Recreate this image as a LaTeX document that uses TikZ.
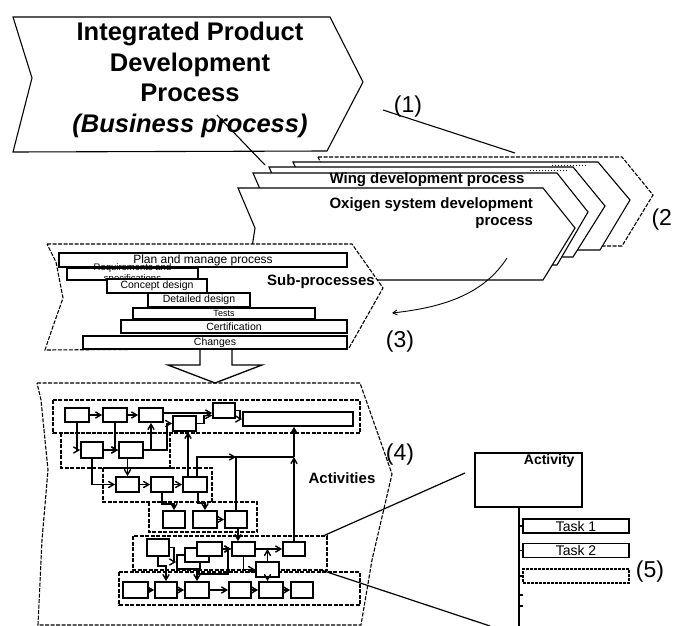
\documentclass[tikz,border=0pt]{standalone}
\usepackage{fontspec}
\setmainfont{Liberation Sans}
\usetikzlibrary{arrows}

\begin{document}
\begin{tikzpicture}[x=1pt,y=-1pt,>=angle 60,
  chev/.style={draw,fill=white,line width=1.1pt},
  grp/.style={draw,line width=1.1pt,dash pattern=on 4pt off 1.5pt},
  bar/.style={draw,fill=white,line width=1.4pt,inner sep=0pt,font=\fontsize{10.5}{12}\selectfont},
  abox/.style={draw,fill=white,line width=1.7pt,inner sep=0pt},
  task/.style={draw,fill=white,line width=1.4pt,inner sep=0pt,minimum width=106pt,minimum height=14pt,font=\fontsize{14}{14}\selectfont},
  conn/.style={->,line width=1.4pt},
  tag/.style={font=\fontsize{23}{23}\selectfont}]

  \useasboundingbox (0,0) rectangle (680,626);

  \draw[chev] (13,17) -- (330,17) -- (363,82) -- (327,151) -- (13,152) -- (32,78) -- cycle;
  \node[align=center,font=\bfseries\fontsize{25.5}{30.5}\selectfont] (ipdp) at (190,80)
    {Integrated Product\\Development\\Process\\\textit{(Business process)}};

  \draw[chev,dash pattern=on 4pt off 1.5pt] (318,157) -- (622,157) -- (653,195) -- (622,246) -- (327,246) -- (335,195) -- cycle;
  \draw[chev] (293,162) -- (598,162) -- (630,200) -- (600,250) -- (302,250) -- (310,200) -- cycle;
  \draw[chev] (269,167) -- (573,167) -- (605,206) -- (573,257) -- (278,257) -- (286,206) -- cycle;
  \draw[chev] (253,173) -- (557,173) -- (588,212) -- (557,265) -- (262,265) -- (270,212) -- cycle;
  \draw[chev] (238,188) -- (543,188) -- (575,228) -- (543,280) -- (247,280) -- (255,228) -- cycle;
  \draw[dotted,line width=1pt] (530,170) -- (567,170) (552,165) -- (588,165);
  \node[font=\bfseries\fontsize{15}{17}\selectfont] (wing) at (427,180) {Wing development process};
  \node[align=right,anchor=east,font=\bfseries\fontsize{15}{17}\selectfont] (oxi) at (536.5,213)
    {Oxigen system development\\process};

  \coordinate (l1a) at (217,115);
  \coordinate (l1b) at (265,165);
  \coordinate (l2a) at (383,110);
  \coordinate (l2b) at (515,153);
  \draw[line width=1.1pt] (l1a) -- (l1b) (l2a) -- (l2b);
  \node[tag] (t1) at (408,107) {(1)};
  \node[tag,anchor=west] (t2) at (648,220) {(2};

  \coordinate (c1) at (507,258);
  \coordinate (c2) at (392,313);
  \draw[->,line width=0.9pt] (c1) .. controls (485,292) and (448,307) .. (c2);
  \node[tag] (t3) at (400,342) {(3)};

  \draw[grp,fill=white] (47,244) -- (352,244) -- (383,288) -- (349,348) -- (45,350) -- (50,335) -- (63,298) -- (56,262) -- cycle;
  \node[bar,minimum width=288pt,minimum height=14pt,font=\fontsize{12}{14}\selectfont] (plan) at (203,260) {Plan and manage process};
  \node[bar,minimum width=131pt,minimum height=12pt,
    label={[align=center,font=\fontsize{9.5}{11}\selectfont]center:Requirements and\\specifications}] (req) at (132.5,274) {};
  \node[bar,minimum width=100pt,minimum height=14pt] (concept) at (157,286) {Concept design};
  \node[bar,minimum width=102pt,minimum height=14pt] (detail) at (199,300) {Detailed design};
  \node[bar,minimum width=182pt,minimum height=11pt,font=\fontsize{9}{10}\selectfont] (tests) at (224,313.5) {Tests};
  \node[bar,minimum width=226pt,minimum height=13pt] (cert) at (234,326.5) {Certification};
  \node[bar,minimum width=264pt,minimum height=13pt] (changes) at (215,342.5) {Changes};
  \node[font=\bfseries\fontsize{15}{17}\selectfont] (subtxt) at (321,282) {Sub-processes};

  \draw[line width=1.3pt] (200,349) -- (200,365) -- (168,365) -- (215,383) -- (262,365) -- (232,365) -- (232,349);

  \draw[grp] (37,383) -- (360,383) -- (392,474) -- (372,560) -- (361,625) -- (38,625) -- (42,540) -- (48,470) -- (41,400) -- cycle;
  \node[font=\bfseries\fontsize{15}{17}\selectfont] (acttxt) at (342,478) {Activities};
  \node[tag] (t4) at (400,455) {(4)};

  \draw[grp] (53,400) rectangle (360,433);
  \draw[grp] (61,433) rectangle (170,468);
  \draw[grp] (103,468) rectangle (212,502);
  \draw[grp] (149,502) rectangle (257,532);
  \draw[grp] (133,536) rectangle (327,570);
  \draw[grp] (119,572) rectangle (360,605);

  \node[abox,minimum width=24pt,minimum height=14pt] (a1) at (77,415) {};
  \node[abox,minimum width=24pt,minimum height=14pt] (a2) at (115,415) {};
  \node[abox,minimum width=24pt,minimum height=14pt] (a3) at (151,415) {};
  \node[abox,minimum width=23pt,minimum height=15pt] (a4) at (184.5,423.5) {};
  \node[abox,minimum width=22pt,minimum height=15pt] (a5) at (224,410.5) {};
  \node[abox,minimum width=110pt,minimum height=14pt] (a6) at (298,419) {};
  \node[abox,minimum width=22pt,minimum height=16pt] (a7) at (92,450) {};
  \node[abox,minimum width=24pt,minimum height=16pt] (a8) at (131,450) {};
  \node[abox,minimum width=23pt,minimum height=15pt] (a9) at (127.5,484.5) {};
  \node[abox,minimum width=22pt,minimum height=15pt] (a10) at (162,484.5) {};
  \node[abox,minimum width=24pt,minimum height=15pt] (a11) at (195,484.5) {};
  \node[abox,minimum width=22pt,minimum height=17pt] (a12) at (174,519.5) {};
  \node[abox,minimum width=24pt,minimum height=17pt] (a13) at (205,519.5) {};
  \node[abox,minimum width=22pt,minimum height=17pt] (a14) at (236,519.5) {};
  \node[abox,minimum width=22pt,minimum height=17pt] (a15) at (158,547.5) {};
  \node[abox,minimum width=23pt,minimum height=14pt] (a16) at (188.5,562) {};
  \node[abox,minimum width=24pt,minimum height=14pt] (a17) at (197,555) {};
  \node[abox,minimum width=25pt,minimum height=14pt] (a18) at (209.5,549) {};
  \node[abox,minimum width=23pt,minimum height=14pt] (a19) at (243.5,549) {};
  \node[abox,minimum width=22pt,minimum height=14pt] (a20) at (294,549) {};
  \node[abox,minimum width=23pt,minimum height=15pt] (a21) at (267.5,569.5) {};
  \node[abox,minimum width=25pt,minimum height=16pt] (a22) at (135.5,590) {};
  \node[abox,minimum width=22pt,minimum height=16pt] (a23) at (166,590) {};
  \node[abox,minimum width=24pt,minimum height=16pt] (a24) at (197,590) {};
  \node[abox,minimum width=22pt,minimum height=16pt] (a25) at (240,590) {};
  \node[abox,minimum width=24pt,minimum height=16pt] (a26) at (271,590) {};
  \node[abox,minimum width=22pt,minimum height=16pt] (a27) at (302,590) {};

  \coordinate (j1) at (236,457);
  \coordinate (j2) at (294,457);

  \draw[conn] (a1) -- (a2);
  \draw[conn] (a2) -- (a3);
  \draw[conn] ([yshift=2pt]a3.east) -- ([yshift=2pt]a3.east -| a5.west);
  \draw[conn] (a4.east) -- ++(7,0) |- ([yshift=-5pt]a5.west);
  \draw[conn] (a5.east) -- ++(4,0) |- (a6.west);
  \draw[conn] (a1.south) |- (a7.west);
  \draw[conn] (a2.south) |- (a8.west);
  \draw[conn] (a7) -- (a8);
  \draw[conn] (a8.east) -| (a3.south);
  \draw[conn] (a8.east) -- (167,450) |- (a4.west);
  \draw[conn] (a8.south -| a9.north) -- (a9.north);
  \draw[conn] (a7.south) |- (a9.west);
  \draw[conn] (a9) -- (a10);
  \draw[conn] (a10) -- (a11);
  \draw[conn] ([xshift=-7pt]a11.north) -- ([xshift=-7pt]a11.north |- a4.south);
  \draw[conn] ([xshift=2pt]a11.north) |- (j1);
  \draw[line width=1.4pt] (a14.north) -- (j1) -- (j2);
  \draw[conn] (a20.north) -- (j2);
  \draw[conn] (j2) -- (j2 |- a6.south);
  \draw[conn] (a10.south) -- ++(0,11) -| (a12.north);
  \draw[conn] ([xshift=3pt]a11.south) -- ++(0,10) -| (a13.north);
  \draw[conn] (a13) -- (a14);
  \draw[conn] ([xshift=2pt]a14.south) -- ([xshift=2pt]a14.south |- a19.north);
  \draw[conn] (a15.south) -- ++(0,9) -| (a23.north);
  \draw[conn] (a15.east) -- ++(4,0) |- (a16.west);
  \draw[conn] (a16.south -| a24.north) -- (a24.north);
  \draw[conn] (197,574) -- (228,574) |- (a19.west);
  \draw[conn] (a18) -- (a19);
  \draw[conn] (a19) -- (a20);
  \draw[conn] (a21.north) -- (a21.north |- a19.east);
  \draw[conn] (a19.south) |- (a21.west);
  \draw[conn] (a21.south) -- (a21.south |- a26.north);
  \draw[conn] (a22) -- (a23);
  \draw[conn] (a23) -- (a24);
  \draw[conn] (a24) -- (a25);
  \draw[conn] (a25) -- (a26);
  \draw[conn] (a26) -- (a27);

  \node[draw,line width=1.4pt,minimum width=107pt,minimum height=54pt] (act) at (528.5,480) {};
  \node[anchor=north east,inner sep=2pt,font=\bfseries\fontsize{14}{14}\selectfont] (actname) at ([xshift=-6pt]act.north east) {Activity};
  \coordinate (d1a) at (323,536);
  \coordinate (d1b) at (465,473);
  \coordinate (d2a) at (321,570);
  \coordinate (d2b) at (490,626);
  \draw[line width=1.2pt] (d1a) -- (d1b) (d2a) -- (d2b);

  \coordinate (vt) at (519,507);
  \coordinate (vb) at (519,626);
  \draw[line width=1.4pt] (vt) -- (vb);
  \node[task] (task1) at (576,526) {Task 1};
  \node[task] (task2) at (576,550.5) {Task 2};
  \node[task,dash pattern=on 3pt off 1pt] (task3) at (576,576) {};
  \draw[line width=1.4pt] (task1.west -| vt) -- (task1.west)
    (task2.west -| vt) -- (task2.west)
    (task3.west -| vt) -- (task3.west)
    (519,595) -- (523,595) (519,606) -- (523,606);
  \node[tag] (t5) at (650,572) {(5)};
\end{tikzpicture}
\end{document}
